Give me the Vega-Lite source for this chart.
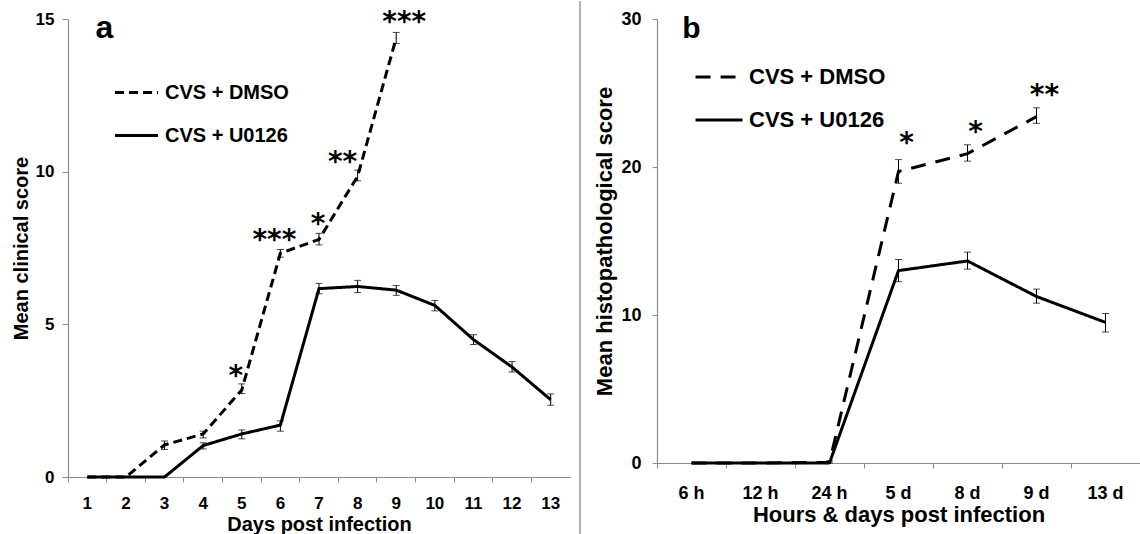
{
  "$schema": "https://vega.github.io/schema/vega-lite/v6.json",
  "padding": {"left": 11, "top": 0, "right": 0, "bottom": 0},
  "background": "white",
  "config": {
    "view": {"stroke": null},
    "font": "Liberation Sans",
    "axis": {
      "grid": false,
      "domainColor": "#8c8c8c",
      "tickColor": "#8c8c8c",
      "domainWidth": 1.2,
      "labelFont": "Liberation Sans",
      "labelFontWeight": "bold",
      "labelColor": "black",
      "titleFont": "Liberation Sans",
      "titleFontWeight": "bold",
      "titleColor": "black"
    }
  },
  "datasets": {
    "clin": [
      {"t": 1, "series": "CVS + DMSO", "mean": 0},
      {"t": 2, "series": "CVS + DMSO", "mean": 0},
      {"t": 3, "series": "CVS + DMSO", "mean": 1.05, "lo": 0.9, "hi": 1.18},
      {"t": 4, "series": "CVS + DMSO", "mean": 1.41, "lo": 1.28, "hi": 1.5},
      {"t": 5, "series": "CVS + DMSO", "mean": 2.85, "lo": 2.73, "hi": 3.05},
      {"t": 6, "series": "CVS + DMSO", "mean": 7.33, "lo": 7.2, "hi": 7.45},
      {"t": 7, "series": "CVS + DMSO", "mean": 7.78, "lo": 7.6, "hi": 7.98},
      {"t": 8, "series": "CVS + DMSO", "mean": 9.85, "lo": 9.7, "hi": 10.05},
      {"t": 9, "series": "CVS + DMSO", "mean": 14.38, "lo": 14.2, "hi": 14.56},
      {"t": 1, "series": "CVS + U0126", "mean": 0},
      {"t": 2, "series": "CVS + U0126", "mean": 0},
      {"t": 3, "series": "CVS + U0126", "mean": 0},
      {"t": 4, "series": "CVS + U0126", "mean": 1.03, "lo": 0.92, "hi": 1.12},
      {"t": 5, "series": "CVS + U0126", "mean": 1.41, "lo": 1.25, "hi": 1.54},
      {"t": 6, "series": "CVS + U0126", "mean": 1.7, "lo": 1.5, "hi": 1.84},
      {"t": 7, "series": "CVS + U0126", "mean": 6.17, "lo": 6.0, "hi": 6.34},
      {"t": 8, "series": "CVS + U0126", "mean": 6.24, "lo": 6.04, "hi": 6.44},
      {"t": 9, "series": "CVS + U0126", "mean": 6.12, "lo": 5.95, "hi": 6.27},
      {"t": 10, "series": "CVS + U0126", "mean": 5.62, "lo": 5.44, "hi": 5.78},
      {"t": 11, "series": "CVS + U0126", "mean": 4.5, "lo": 4.34, "hi": 4.66},
      {"t": 12, "series": "CVS + U0126", "mean": 3.6, "lo": 3.44, "hi": 3.78},
      {"t": 13, "series": "CVS + U0126", "mean": 2.53, "lo": 2.35, "hi": 2.72}
    ],
    "clinStars": [
      {"t": 5, "y": 3.42, "label": "*"},
      {"t": 6, "y": 7.85, "label": "***"},
      {"t": 7, "y": 8.4, "label": "*"},
      {"t": 8, "y": 10.4, "label": "**"},
      {"t": 9, "y": 15.0, "label": "***"}
    ],
    "histo": [
      {"t": "6 h", "series": "CVS + DMSO", "mean": 0},
      {"t": "12 h", "series": "CVS + DMSO", "mean": 0},
      {"t": "24 h", "series": "CVS + DMSO", "mean": 0.05, "lo": 0, "hi": 0.15},
      {"t": "5 d", "series": "CVS + DMSO", "mean": 19.7, "lo": 18.9, "hi": 20.5},
      {"t": "8 d", "series": "CVS + DMSO", "mean": 20.9, "lo": 20.4, "hi": 21.5},
      {"t": "9 d", "series": "CVS + DMSO", "mean": 23.4, "lo": 22.95, "hi": 24.0},
      {"t": "6 h", "series": "CVS + U0126", "mean": 0},
      {"t": "12 h", "series": "CVS + U0126", "mean": 0},
      {"t": "24 h", "series": "CVS + U0126", "mean": 0},
      {"t": "5 d", "series": "CVS + U0126", "mean": 13.0, "lo": 12.25, "hi": 13.75},
      {"t": "8 d", "series": "CVS + U0126", "mean": 13.65, "lo": 13.1, "hi": 14.25},
      {"t": "9 d", "series": "CVS + U0126", "mean": 11.25, "lo": 10.8, "hi": 11.75},
      {"t": "13 d", "series": "CVS + U0126", "mean": 9.5, "lo": 8.85, "hi": 10.1}
    ],
    "histoStars": [
      {"t": "5 d", "y": 21.8, "label": "*"},
      {"t": "8 d", "y": 22.6, "label": "*"},
      {"t": "9 d", "y": 25.1, "label": "**"}
    ]
  },
  "hconcat": [
    {
      "width": 502,
      "height": 458,
      "layer": [
        {
          "data": {"values": [{}]},
          "mark": {"type": "rule", "color": "#9a9a9a", "strokeWidth": 1.5, "xOffset": 10, "yOffset": -18, "y2Offset": 58},
          "encoding": {"x": {"value": "width"}, "y": {"value": 0}, "y2": {"value": "height"}}
        },
        {
          "data": {"name": "clin"},
          "mark": {"type": "line", "strokeWidth": 3, "color": "black"},
          "encoding": {
            "x": {"field": "t", "type": "ordinal", "bandPosition": 0.5,
              "scale": {"type": "band", "paddingInner": 0, "paddingOuter": 0},
              "axis": {"title": "Days post infection", "labelAngle": 0, "bandPosition": 0, "tickSize": 5, "labelPadding": 13, "titlePadding": 3, "labelFontSize": 17, "titleFontSize": 20}},
            "y": {"field": "mean", "type": "quantitative",
              "scale": {"domain": [0, 15], "nice": false},
              "axis": {"title": "Mean clinical score", "values": [0, 5, 10, 15], "tickSize": 6, "labelPadding": 8, "titlePadding": 4, "labelFontSize": 17, "titleFontSize": 20}},
            "strokeDash": {"field": "series", "type": "nominal",
              "scale": {"domain": ["CVS + DMSO", "CVS + U0126"], "range": [[9, 5], [1, 0]]},
              "legend": {"title": null, "orient": "none", "legendX": 45, "legendY": 50, "symbolType": "stroke", "symbolStrokeWidth": 3, "symbolSize": 1850, "symbolStrokeColor": "black", "labelFont": "Liberation Sans", "labelFontSize": 20, "labelFontWeight": "bold", "labelColor": "black", "labelOffset": 5, "rowPadding": 9, "labelLimit": 300}}
          }
        },
        {
          "data": {"name": "clin"},
          "transform": [{"filter": "datum.lo != null"}],
          "mark": {"type": "rule", "color": "black", "strokeWidth": 1},
          "encoding": {
            "x": {"field": "t", "type": "ordinal", "bandPosition": 0.5},
            "y": {"field": "lo", "type": "quantitative"},
            "y2": {"field": "hi"}
          }
        },
        {
          "data": {"name": "clin"},
          "transform": [{"filter": "datum.lo != null"}],
          "mark": {"type": "tick", "color": "black", "thickness": 1, "size": 7, "orient": "horizontal"},
          "encoding": {
            "x": {"field": "t", "type": "ordinal", "bandPosition": 0.5},
            "y": {"field": "lo", "type": "quantitative"}
          }
        },
        {
          "data": {"name": "clin"},
          "transform": [{"filter": "datum.lo != null"}],
          "mark": {"type": "tick", "color": "black", "thickness": 1, "size": 7, "orient": "horizontal"},
          "encoding": {
            "x": {"field": "t", "type": "ordinal", "bandPosition": 0.5},
            "y": {"field": "hi", "type": "quantitative"}
          }
        },
        {
          "data": {"name": "clinStars"},
          "transform": [{"filter": "datum.t == 5 || datum.t == 6"}],
          "mark": {"type": "text", "font": "DejaVu Sans", "fontWeight": "bold", "fontSize": 28, "baseline": "alphabetic", "dy": 12, "dx": -6, "color": "black"},
          "encoding": {
            "x": {"field": "t", "type": "ordinal", "bandPosition": 0.5},
            "y": {"field": "y", "type": "quantitative"},
            "text": {"field": "label"}
          }
        },
        {
          "data": {"name": "clinStars"},
          "transform": [{"filter": "datum.t == 7"}],
          "mark": {"type": "text", "font": "DejaVu Sans", "fontWeight": "bold", "fontSize": 28, "baseline": "alphabetic", "dy": 12, "dx": -1, "color": "black"},
          "encoding": {
            "x": {"field": "t", "type": "ordinal", "bandPosition": 0.5},
            "y": {"field": "y", "type": "quantitative"},
            "text": {"field": "label"}
          }
        },
        {
          "data": {"name": "clinStars"},
          "transform": [{"filter": "datum.t == 8"}],
          "mark": {"type": "text", "font": "DejaVu Sans", "fontWeight": "bold", "fontSize": 28, "baseline": "alphabetic", "dy": 12, "dx": -15, "color": "black"},
          "encoding": {
            "x": {"field": "t", "type": "ordinal", "bandPosition": 0.5},
            "y": {"field": "y", "type": "quantitative"},
            "text": {"field": "label"}
          }
        },
        {
          "data": {"name": "clinStars"},
          "transform": [{"filter": "datum.t == 9"}],
          "mark": {"type": "text", "font": "DejaVu Sans", "fontWeight": "bold", "fontSize": 28, "baseline": "alphabetic", "dy": 12, "dx": 8, "color": "black"},
          "encoding": {
            "x": {"field": "t", "type": "ordinal", "bandPosition": 0.5},
            "y": {"field": "y", "type": "quantitative"},
            "text": {"field": "label"}
          }
        },
        {
          "data": {"values": [{}]},
          "mark": {"type": "text", "text": "a", "font": "Liberation Sans", "fontWeight": "bold", "fontSize": 32, "baseline": "middle", "dx": 17, "color": "black"},
          "encoding": {
            "x": {"datum": 1, "type": "ordinal", "bandPosition": 0.5},
            "y": {"datum": 14.7, "type": "quantitative"}
          }
        }
      ]
    },
    {
      "width": 483,
      "height": 444,
      "layer": [
        {
          "data": {"name": "histo"},
          "mark": {"type": "line", "strokeWidth": 3, "color": "black"},
          "encoding": {
            "x": {"field": "t", "type": "ordinal", "bandPosition": 0.5,
              "scale": {"type": "band", "paddingInner": 0, "paddingOuter": 0, "domain": ["6 h", "12 h", "24 h", "5 d", "8 d", "9 d", "13 d"]},
              "axis": {"title": "Hours & days post infection", "labelAngle": 0, "bandPosition": 0, "tickSize": 5, "labelPadding": 16, "titlePadding": 2, "labelFontSize": 18, "titleFontSize": 22}},
            "y": {"field": "mean", "type": "quantitative",
              "scale": {"domain": [0, 30], "nice": false},
              "axis": {"title": "Mean histopathological score", "values": [0, 10, 20, 30], "tickSize": 5, "labelPadding": 11, "titlePadding": 4, "labelFontSize": 18, "titleFontSize": 22}},
            "strokeDash": {"field": "series", "type": "nominal",
              "scale": {"domain": ["CVS + DMSO", "CVS + U0126"], "range": [[15, 10], [1, 0]]},
              "legend": {"title": null, "orient": "none", "legendX": 37, "legendY": 33, "symbolType": "stroke", "symbolStrokeWidth": 3, "symbolSize": 2200, "symbolStrokeColor": "black", "labelFont": "Liberation Sans", "labelFontSize": 22, "labelFontWeight": "bold", "labelColor": "black", "labelOffset": 5, "rowPadding": 7, "labelLimit": 300}}
          }
        },
        {
          "data": {"name": "histo"},
          "transform": [{"filter": "datum.lo != null"}],
          "mark": {"type": "rule", "color": "black", "strokeWidth": 1},
          "encoding": {
            "x": {"field": "t", "type": "ordinal", "bandPosition": 0.5},
            "y": {"field": "lo", "type": "quantitative"},
            "y2": {"field": "hi"}
          }
        },
        {
          "data": {"name": "histo"},
          "transform": [{"filter": "datum.lo != null"}],
          "mark": {"type": "tick", "color": "black", "thickness": 1, "size": 7, "orient": "horizontal"},
          "encoding": {
            "x": {"field": "t", "type": "ordinal", "bandPosition": 0.5},
            "y": {"field": "lo", "type": "quantitative"}
          }
        },
        {
          "data": {"name": "histo"},
          "transform": [{"filter": "datum.lo != null"}],
          "mark": {"type": "tick", "color": "black", "thickness": 1, "size": 7, "orient": "horizontal"},
          "encoding": {
            "x": {"field": "t", "type": "ordinal", "bandPosition": 0.5},
            "y": {"field": "hi", "type": "quantitative"}
          }
        },
        {
          "data": {"name": "histoStars"},
          "mark": {"type": "text", "font": "DejaVu Sans", "fontWeight": "bold", "fontSize": 28, "baseline": "alphabetic", "dy": 12, "dx": 8, "color": "black"},
          "encoding": {
            "x": {"field": "t", "type": "ordinal", "bandPosition": 0.5},
            "y": {"field": "y", "type": "quantitative"},
            "text": {"field": "label"}
          }
        },
        {
          "data": {"values": [{}]},
          "mark": {"type": "text", "text": "b", "font": "Liberation Sans", "fontWeight": "bold", "fontSize": 30, "baseline": "middle", "color": "black"},
          "encoding": {
            "x": {"datum": "6 h", "type": "ordinal", "bandPosition": 0.5},
            "y": {"datum": 29.3, "type": "quantitative"}
          }
        }
      ]
    }
  ],
  "spacing": 87,
  "bounds": "flush",
  "resolve": {
    "scale": {"x": "independent", "y": "independent", "strokeDash": "independent"},
    "axis": {"x": "independent", "y": "independent"},
    "legend": {"strokeDash": "independent"}
  }
}
